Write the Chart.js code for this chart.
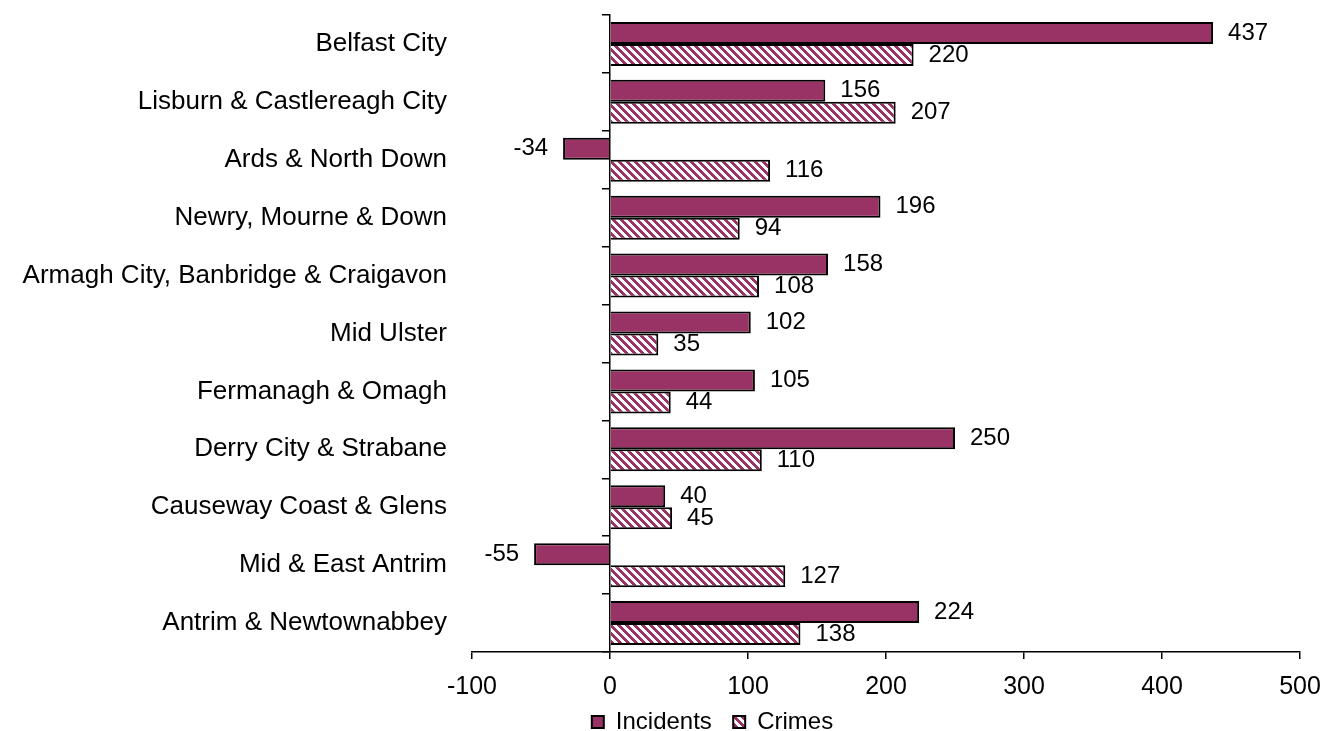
<!DOCTYPE html>
<html>
<head>
<meta charset="utf-8">
<title>Incidents and Crimes by council area</title>
<script src="https://cdn.jsdelivr.net/npm/chart.js@4.4.1/dist/chart.umd.min.js"></script>
<style>
  html, body { margin: 0; padding: 0; background: #fff; }
  #wrap { width: 1334px; height: 731px; position: relative; }
</style>
</head>
<body>
<div id="wrap"><canvas id="chart" width="1334" height="731"></canvas></div>
<script>
// values
const categories = [
  'Belfast City',
  'Lisburn & Castlereagh City',
  'Ards & North Down',
  'Newry, Mourne & Down',
  'Armagh City, Banbridge & Craigavon',
  'Mid Ulster',
  'Fermanagh & Omagh',
  'Derry City & Strabane',
  'Causeway Coast & Glens',
  'Mid & East Antrim',
  'Antrim & Newtownabbey'
];
const incidents = [437, 156, -34, 196, 158, 102, 105, 250, 40, -55, 224];
const crimes = [220, 207, 116, 94, 108, 35, 44, 110, 45, 127, 138];
const xTicks = [-100, 0, 100, 200, 300, 400, 500];

const PURPLE = '#993366';
const FONT = "'Liberation Sans', Arial, sans-serif";

// diagonal hatch ("\") for the Crimes series
function makeHatch() {
  const c = document.createElement('canvas');
  c.width = 8; c.height = 8;
  const g = c.getContext('2d');
  g.fillStyle = '#fff';
  g.fillRect(0, 0, 8, 8);
  g.fillStyle = PURPLE;
  for (let y = 0; y < 8; y++) {
    for (let x = 0; x < 8; x++) {
      if (((x - y) % 8 + 8) % 8 < 4) g.fillRect(x, y, 1, 1);
    }
  }
  return document.getElementById('chart').getContext('2d').createPattern(c, 'repeat');
}
const hatch = makeHatch();

// no extra padding from label overhang
const noPad = s => { s.paddingTop = 0; s.paddingBottom = 0; s.paddingLeft = 0; s.paddingRight = 0; };

// value labels next to the bar ends
const barLabels = {
  id: 'barLabels',
  afterDatasetsDraw(chart) {
    const ctx = chart.ctx;
    ctx.save();
    ctx.font = '24px ' + FONT;
    ctx.fillStyle = '#000';
    ctx.textBaseline = 'middle';
    chart.data.datasets.forEach((ds, i) => {
      chart.getDatasetMeta(i).data.forEach((el, j) => {
        const v = ds.data[j];
        if (v >= 0) { ctx.textAlign = 'left'; ctx.fillText(String(v), el.x + 15, el.y); }
        else { ctx.textAlign = 'right'; ctx.fillText(String(v), el.x - 15, el.y); }
      });
    });
    ctx.restore();
  }
};

new Chart(document.getElementById('chart'), {
  type: 'bar',
  data: {
    labels: categories,
    datasets: [
      { label: 'Incidents', data: incidents, backgroundColor: PURPLE, borderColor: '#000', borderWidth: 2,
        barPercentage: 1, categoryPercentage: 0.76 },
      { label: 'Crimes', data: crimes, backgroundColor: hatch, borderColor: '#000', borderWidth: 2,
        barPercentage: 1, categoryPercentage: 0.76 }
    ]
  },
  options: {
    indexAxis: 'y',
    responsive: false,
    animation: false,
    layout: { padding: { left: 0, right: -91, top: 15, bottom: -13 } },
    plugins: {
      legend: {
        position: 'bottom',
        labels: {
          boxWidth: 12, boxHeight: 12, padding: 8, color: '#000', font: { family: FONT, size: 24 },
          // a little more room after the first item, as in the reference
          generateLabels: chart => Chart.defaults.plugins.legend.labels.generateLabels(chart)
            .map((it, i) => (i === 0 ? Object.assign(it, { text: it.text + '  ' }) : it))
        }
      },
      tooltip: { enabled: false }
    },
    scales: {
      x: {
        type: 'linear',
        min: -100, max: 500,
        afterBuildTicks: s => { s.ticks = xTicks.map(v => ({ value: v })); },
        afterFit: s => { noPad(s); s.height = 50; },
        grid: { drawOnChartArea: false, drawTicks: true, tickLength: 7, color: '#000', lineWidth: 1.5 },
        border: { display: true, color: '#000', width: 1.5 },
        ticks: { color: '#000', padding: 13, font: { family: FONT, size: 25 } }
      },
      y: {
        type: 'category',
        afterFit: s => { noPad(s); s.width = 472; },
        grid: { display: false },
        border: { display: false },
        ticks: { color: '#000', padding: 17, font: { family: FONT, size: 26 } }
      },
      y2: {
        axis: 'y',
        type: 'category',
        labels: categories,
        position: { x: 0 },
        offset: true,
        afterFit: noPad,
        grid: { offset: true, drawOnChartArea: false, drawTicks: true, tickLength: 7, color: '#000', lineWidth: 1.5 },
        border: { display: true, color: '#000', width: 1.5 },
        ticks: { display: false }
      },
      // empty right-hand spacer so the legend sits where it does in the reference
      yr: {
        axis: 'y',
        type: 'category',
        labels: categories,
        position: 'right',
        afterFit: s => { noPad(s); s.width = 125; },
        grid: { display: false },
        border: { display: false },
        ticks: { display: false }
      }
    }
  },
  plugins: [barLabels]
});
</script>
</body>
</html>
